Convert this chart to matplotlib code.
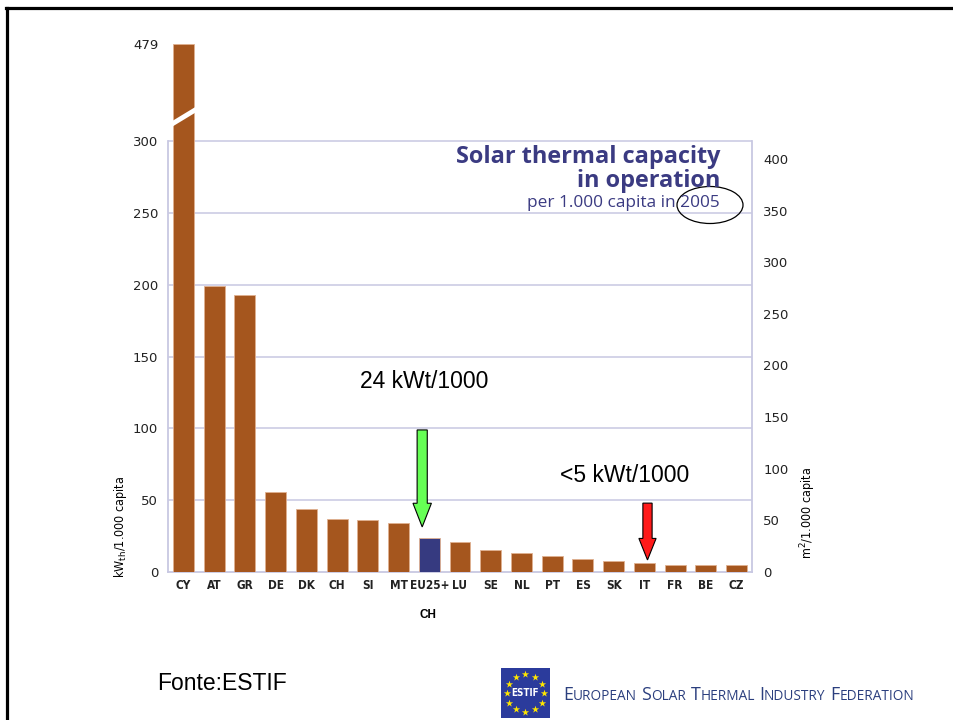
import numpy as np
import matplotlib
matplotlib.use('Agg')
import matplotlib.pyplot as plt
from matplotlib.patches import Ellipse, FancyArrow, Rectangle
from matplotlib.lines import Line2D

# Data: solar thermal capacity per 1.000 capita in 2005 (kWth)
countries = ['CY', 'AT', 'GR', 'DE', 'DK', 'CH', 'SI', 'MT', 'EU25+', 'LU',
             'SE', 'NL', 'PT', 'ES', 'SK', 'IT', 'FR', 'BE', 'CZ']
kw_values = [479, 199, 193, 56, 44, 37, 36, 34, 24, 21,
             15.5, 13, 11, 9, 8, 6, 5.2, 5.2, 5.2]
left_ticks = [0, 50, 100, 150, 200, 250, 300, 479]
grid_vals = [50, 100, 150, 200, 250]
right_ticks = [0, 50, 100, 150, 200, 250, 300, 350, 400]

W, H = 954, 720
BROWN = '#a5561e'
NAVY = '#363a80'
LAV = '#c8c8e2'
TITLE_C = '#3b3b82'


def px(x, y):
    # pixel position -> figure fraction
    return x / W, 1 - y / H


# broken axis: values above 300 are squeezed
BRK, SQ = 300, 0.379


def fwd(v):
    v = np.asarray(v, dtype=float)
    return np.where(v <= BRK, v, BRK + (v - BRK) * SQ)


def inv(t):
    t = np.asarray(t, dtype=float)
    return np.where(t <= BRK, t, BRK + (t - BRK) / SQ)


fig = plt.figure(figsize=(W / 100, H / 100), dpi=100)
r = fig.canvas.get_renderer()


def fit_text(t, width_px):
    # scale the font so the text spans the wanted width
    w = t.get_window_extent(r).width
    t.set_fontsize(t.get_fontsize() * width_px / w)
    return t


ax = fig.add_axes([168 / W, 1 - 572 / H, 584 / W, 532 / H])
ax.set_yscale('function', functions=(fwd, inv))

x = np.arange(len(countries))
colors = [NAVY if c == 'EU25+' else BROWN for c in countries]
ax.bar(x, kw_values, width=0.68, color=colors, edgecolor='#e0b090',
       linewidth=0.6, zorder=3)

ax.set_xlim(-0.5, len(countries) - 0.5)
top_t = 532 / 1.435
ax.set_ylim(0, float(inv(top_t)))

for g in grid_vals:
    ax.axhline(g, color=LAV, lw=1.1, zorder=1)
ax.axhline(BRK, color=LAV, lw=1.1, zorder=1)

ax.spines['top'].set_visible(False)
for s in ['left', 'right', 'bottom']:
    ax.spines[s].set_color(LAV)
    ax.spines[s].set_linewidth(1.3)
ax.spines['left'].set_bounds(0, BRK)
ax.spines['right'].set_bounds(0, BRK)

ax.set_yticks(left_ticks)
ax.set_yticklabels([str(t) for t in left_ticks])
ax.tick_params(axis='y', length=0, pad=7, labelsize=9.5, labelcolor='#222222')
ax.set_xticks(x)
ax.set_xticklabels(countries, fontweight='bold', fontstretch='condensed',
                   fontsize=8.5)
ax.tick_params(axis='x', length=0, pad=5, labelcolor='#222222')

# break mark across the tall CY bar
ax.plot([-0.55, 0.5], [326, 362], color='white', lw=3.5, zorder=4,
        clip_on=False, solid_capstyle='butt')

# right axis in m2 per 1.000 capita
ax2 = ax.twinx()
ax2.set_ylim(0, 532 / 1.0325)
ax2.set_yticks(right_ticks)
ax2.tick_params(axis='y', length=0, pad=8, labelsize=9.5, labelcolor='#222222')
for s in ax2.spines.values():
    s.set_visible(False)

# axis labels
fig.text(*px(121, 527), r'kW$_{\rm th}$/1.000 capita', rotation=90,
         ha='center', va='center', fontsize=9, fontstretch='condensed')
fig.text(*px(808, 513), r'm$^2$/1.000 capita', rotation=90,
         ha='center', va='center', fontsize=9, fontstretch='condensed')

# title block inside the chart
t1 = fig.text(*px(720, 157), 'Solar thermal capacity', ha='right',
              va='center', fontsize=15, fontweight='bold', family='Open Sans',
              color=TITLE_C)
fit_text(t1, 265)
t2 = fig.text(*px(720, 181), 'in operation', ha='right', va='center',
              fontsize=t1.get_fontsize(), fontweight='bold',
              family='Open Sans', color=TITLE_C)
t3 = fig.text(*px(720, 203), 'per 1.000 capita in 2005', ha='right',
              va='center', fontsize=11, family='Open Sans', color=TITLE_C)
fit_text(t3, 192)
fig.add_artist(Ellipse(px(710, 205), 66 / W, 37 / H, fill=False,
                       edgecolor='black', lw=0.9, transform=fig.transFigure))

# arrows
i_eu = countries.index('EU25+')
ax.add_patch(FancyArrow(i_eu - 0.23, 99, 0, kw_values[i_eu] + 7.4 - 99,
                        width=0.33, head_width=0.6, head_length=16.5,
                        length_includes_head=True, facecolor='#66ff55',
                        edgecolor='black', lw=0.8, zorder=5))
i_it = countries.index('IT')
ax.add_patch(FancyArrow(i_it + 0.1, 48, 0, kw_values[i_it] + 2.4 - 48,
                        width=0.3, head_width=0.56, head_length=15,
                        length_includes_head=True, facecolor='#ff1a1a',
                        edgecolor='black', lw=0.8, zorder=5))

fig.text(*px(360, 381), '24 kWt/1000', ha='left', va='center',
         fontsize=16.5, family='Liberation Sans')
fig.text(*px(560, 475), '<5 kWt/1000', ha='left', va='center',
         fontsize=16.5, family='Liberation Sans')
fig.text(*px(428, 615), 'CH', ha='center', va='center', fontsize=8.5,
         fontweight='bold', family='Liberation Sans')
fig.text(*px(157, 683), 'Fonte:ESTIF', ha='left', va='center',
         fontsize=16.5, family='Liberation Sans')

# slide border (top and left)
fig.add_artist(Line2D([6 / W, 1], [1 - 8 / H] * 2, color='black', lw=2.3,
                      transform=fig.transFigure))
fig.add_artist(Line2D([7 / W] * 2, [0, 1 - 8 / H], color='black', lw=2.3,
                      transform=fig.transFigure))

# ESTIF logo
lax = fig.add_axes([501 / W, 1 - 718 / H, 49 / W, 50 / H])
lax.add_patch(Rectangle((0, 0), 1, 1, color='#2b3b9c'))
ang = np.linspace(0, 2 * np.pi, 12, endpoint=False)
lax.scatter(0.5 + 0.38 * np.cos(ang), 0.5 + 0.38 * np.sin(ang), marker='*',
            s=30, color='#ffe600', linewidths=0, zorder=3)
lax.text(0.5, 0.5, 'ESTIF', ha='center', va='center', color='white',
         fontsize=7, fontweight='bold', fontstretch='condensed')
lax.set_xlim(0, 1)
lax.set_ylim(0, 1)
lax.axis('off')

# federation name in small caps, scaled to span 563..913 px
words = ['European', 'Solar', 'Thermal', 'Industry', 'Federation']
big, small, gap = 11.5, 8.8, 4


def small_caps(scale, draw):
    cx, cy = px(563, 700)
    made = []
    for w in words:
        for part, fs in [(w[0], big * scale), (w[1:].upper(), small * scale)]:
            t = fig.text(cx, cy, part, ha='left', va='baseline', fontsize=fs,
                         family='Open Sans', color='#2b3f7e')
            cx += t.get_window_extent(r).width / W
            made.append(t)
        cx += gap * scale / W
    total = cx * W - 563 - gap * scale
    if not draw:
        for t in made:
            t.remove()
    return total


k = 350 / small_caps(1.0, False)
small_caps(k, True)

fig.savefig('out.png', dpi=100)
